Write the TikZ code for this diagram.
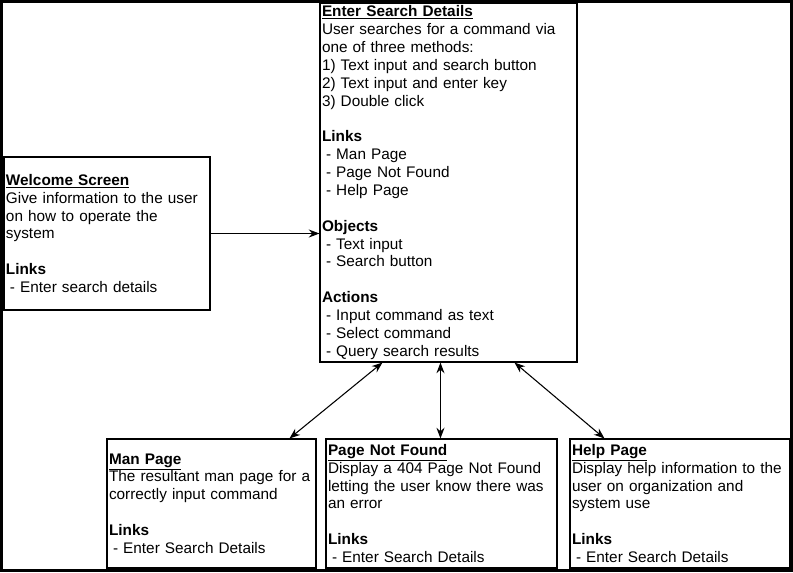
\documentclass[tikz,border=0pt]{standalone}
\usepackage{fontspec}
\setmainfont{Liberation Sans}
\usetikzlibrary{arrows.meta,calc}
\newcommand{\dashitem}{\hspace*{3pt}- }
\newcommand{\boxtitle}[1]{\underline{\textbf{#1}}}
\begin{document}
\begin{tikzpicture}[x=0.75pt,y=-0.75pt,
  screen/.style={draw, line width=0.8pt, align=left, inner xsep=1.5pt, inner ysep=0pt,
    font=\fontsize{11.5}{13.4}\selectfont},
  link/.style={line width=0.8pt, -{Stealth[length=8pt,width=6pt]}},
  twoway/.style={line width=0.8pt, {Stealth[length=8pt,width=6pt]}-{Stealth[length=8pt,width=6pt]}}]
\useasboundingbox (0,0) rectangle (793,572);
\draw[line width=2.5pt] (1.7,1.7) rectangle (791.3,570.3);
% screens
\node[screen, text width=189.75pt, minimum height=269.25pt] (search) at (448.5,182.5)
  {\boxtitle{Enter Search Details}\\
   User searches for a command via\\
   one of three methods:\\
   1) Text input and search button\\
   2) Text input and enter key\\
   3) Double click\\[13.4pt]
   \textbf{Links}\\
   \dashitem Man Page\\
   \dashitem Page Not Found\\
   \dashitem Help Page\\[13.4pt]
   \textbf{Objects}\\
   \dashitem Text input\\
   \dashitem Search button\\[13.4pt]
   \textbf{Actions}\\
   \dashitem Input command as text\\
   \dashitem Select command\\
   \dashitem Query search results};
\node[screen, text width=151.5pt, minimum height=114.75pt] (welcome) at (107,233.5)
  {\boxtitle{Welcome Screen}\\
   Give information to the user\\
   on how to operate the\\
   system\\[13.4pt]
   \textbf{Links}\\
   \dashitem Enter search details};
\node[screen, text width=153.75pt, minimum height=96.75pt] (manpage) at (211.5,503.5)
  {\boxtitle{Man Page}\\
   The resultant man page for a\\
   correctly input command\\[13.4pt]
   \textbf{Links}\\
   \dashitem Enter Search Details};
\node[screen, text width=170.25pt, minimum height=96.75pt] (notfound) at (441.5,503.5)
  {\boxtitle{Page Not Found}\\
   Display a 404 Page Not Found\\
   letting the user know there was\\
   an error\\[13.4pt]
   \textbf{Links}\\
   \dashitem Enter Search Details};
\node[screen, text width=162pt, minimum height=96.75pt] (helppage) at (680,503.5)
  {\boxtitle{Help Page}\\
   Display help information to the\\
   user on organization and\\
   system use\\[13.4pt]
   \textbf{Links}\\
   \dashitem Enter Search Details};
% connectors
\draw[link] (welcome.east) -- (welcome.east -| search.west);
\draw[twoway] ($(search.south west)+(63,0)$) -- ($(manpage.north west)+(183,0)$);
\draw[twoway] ($(search.south west)+(121,0)$) -- ($(notfound.north west)+(115,0)$);
\draw[twoway] ($(search.south west)+(195,0)$) -- ($(helppage.north west)+(35,0)$);
\end{tikzpicture}
\end{document}
